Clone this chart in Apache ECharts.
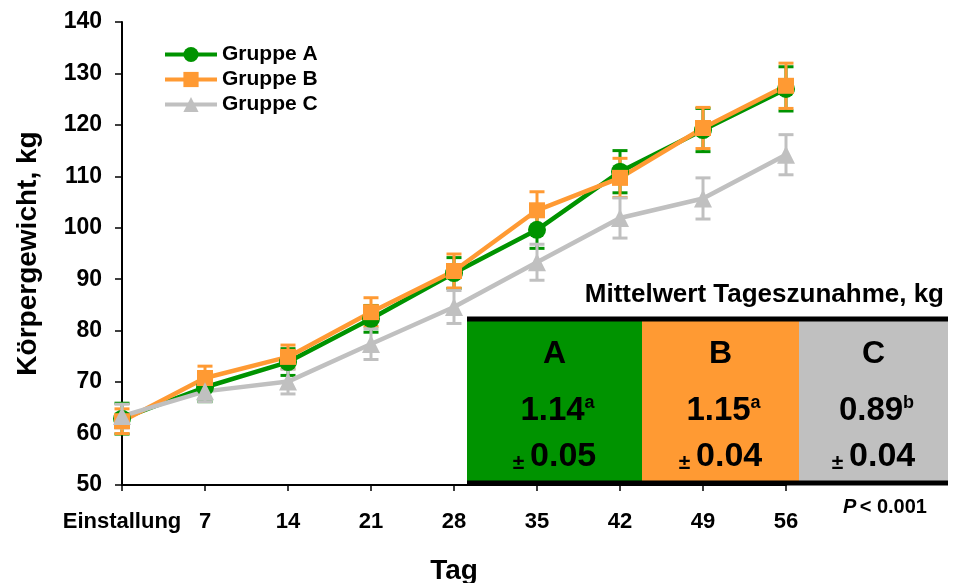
<!DOCTYPE html>
<html>
<head>
<meta charset="utf-8">
<script src="https://cdn.jsdelivr.net/npm/echarts@6/dist/echarts.min.js"></script>
<style>html,body{margin:0;padding:0;background:#fff}#c{width:955px;height:583px}</style>
</head>
<body>
<div id="c"></div>
<script>
// ---- data ----
const days = [0, 7, 14, 21, 28, 35, 42, 49, 56];
const xTickLabels = ['Einstallung', '7', '14', '21', '28', '35', '42', '49', '56'];
const groupNames = ['Gruppe A', 'Gruppe B', 'Gruppe C'];
const groupA = [62.9, 69.0, 73.9, 82.3, 91.2, 99.6, 110.9, 119.0, 127.0];
const groupAErr = [3.0, 2.8, 2.6, 2.6, 3.0, 3.6, 4.1, 4.2, 4.3];
const groupB = [62.4, 70.8, 74.9, 83.6, 91.6, 103.4, 109.7, 119.4, 127.6];
const groupBErr = [2.4, 2.3, 2.3, 2.8, 3.3, 3.6, 3.8, 4.0, 4.4];
const groupC = [63.4, 68.2, 70.1, 77.4, 84.6, 93.3, 101.9, 105.7, 114.2];
const groupCErr = [2.3, 2.0, 2.4, 3.0, 3.2, 3.5, 3.9, 4.0, 3.9];
const tableLetters = ['A', 'B', 'C'];
const tableMeans = ['1.14', '1.15', '0.89'];
const tableSup = ['a', 'a', 'b'];
const tableSE = ['0.05', '0.04', '0.04'];
const tableTitle = 'Mittelwert Tageszunahme, kg';
const pValueText = '< 0.001';

// ---- styling ----
const FONT = 'Liberation Sans, Arial, Helvetica, sans-serif';
const colors = ['#009300', '#FF9A33', '#C0C0C0'];
const symbols = ['circle', 'rect', 'triangle'];
const symbolSizes = [18, 16, 18];
const means = [groupA, groupB, groupC];
const errs = [groupAErr, groupBErr, groupCErr];

function errRender(color) {
  return function (params, api) {
    const x = api.value(0), y = api.value(1), e = api.value(2);
    const top = api.coord([x, y + e]);
    const bot = api.coord([x, y - e]);
    const hw = 7.5;
    const st = { stroke: color, lineWidth: 3 };
    return {
      type: 'group',
      children: [
        { type: 'line', shape: { x1: top[0], y1: top[1], x2: bot[0], y2: bot[1] }, style: st },
        { type: 'line', shape: { x1: top[0] - hw, y1: top[1], x2: top[0] + hw, y2: top[1] }, style: st },
        { type: 'line', shape: { x1: bot[0] - hw, y1: bot[1], x2: bot[0] + hw, y2: bot[1] }, style: st }
      ]
    };
  };
}

const series = [];
for (let g = 0; g < 3; g++) {
  series.push({
    type: 'custom',
    name: groupNames[g] + ' SE',
    renderItem: errRender(colors[g]),
    data: days.map((d, i) => [d, means[g][i], errs[g][i]]),
    silent: true,
    z: 2
  });
  series.push({
    type: 'line',
    name: groupNames[g],
    data: days.map((d, i) => [d, means[g][i]]),
    symbol: symbols[g],
    symbolSize: symbolSizes[g],
    lineStyle: { color: colors[g], width: 4.5 },
    itemStyle: { color: colors[g] },
    color: colors[g],
    z: 2
  });
}

// ---- table graphic ----
const cellX = [467, 642, 799, 948];
const tTop = 319, tBot = 483;
const graphic = [];
for (let i = 0; i < 3; i++) {
  graphic.push({
    type: 'rect', z: 10,
    shape: { x: cellX[i], y: tTop, width: cellX[i + 1] - cellX[i], height: tBot - tTop },
    style: { fill: colors[i] }
  });
}
graphic.push({ type: 'line', z: 11, shape: { x1: 467, y1: tTop, x2: 948, y2: tTop }, style: { stroke: '#000', lineWidth: 5 } });
graphic.push({ type: 'line', z: 11, shape: { x1: 467, y1: tBot, x2: 948, y2: tBot }, style: { stroke: '#000', lineWidth: 5 } });
for (let i = 0; i < 3; i++) {
  const cx = (cellX[i] + cellX[i + 1]) / 2;
  graphic.push({
    type: 'text', z: 12, x: cx, y: 354,
    style: { text: tableLetters[i], align: 'center', verticalAlign: 'middle', fontSize: 32, fontWeight: 'bold', fontFamily: FONT, fill: '#000' }
  });
  graphic.push({
    type: 'text', z: 12, x: cx + 3, y: 411,
    style: {
      text: '{v|' + tableMeans[i] + '}{s|' + tableSup[i] + '}',
      align: 'center', verticalAlign: 'middle', fill: '#000',
      rich: {
        v: { fontSize: 33, fontWeight: 'bold', fontFamily: FONT, fill: '#000' },
        s: { fontSize: 18, fontWeight: 'bold', fontFamily: FONT, fill: '#000', verticalAlign: 'top' }
      }
    }
  });
  graphic.push({
    type: 'text', z: 12, x: cx, y: 457,
    style: {
      text: '{p|± }{v|' + tableSE[i] + '}',
      align: 'center', verticalAlign: 'middle', fill: '#000',
      rich: {
        p: { fontSize: 21, fontWeight: 'bold', fontFamily: FONT, fill: '#000', verticalAlign: 'bottom' },
        v: { fontSize: 34, fontWeight: 'bold', fontFamily: FONT, fill: '#000' }
      }
    }
  });
}
graphic.push({
  type: 'text', z: 12, x: 944, y: 295,
  style: { text: tableTitle, align: 'right', verticalAlign: 'middle', fontSize: 26, fontWeight: 'bold', fontFamily: FONT, fill: '#000' }
});
graphic.push({
  type: 'text', z: 12, x: 885, y: 507,
  style: {
    text: '{i|P} {n|' + pValueText + '}', align: 'center', verticalAlign: 'middle',
    rich: {
      i: { fontSize: 20, fontWeight: 'bold', fontStyle: 'italic', fontFamily: FONT, fill: '#000' },
      n: { fontSize: 20, fontWeight: 'bold', fontFamily: FONT, fill: '#000' }
    }
  }
});

const chart = echarts.init(document.getElementById('c'), null, { renderer: 'canvas' });
chart.setOption({
  animation: false,
  backgroundColor: '#fff',
  grid: { left: 122, right: 169, top: 22, bottom: 98, containLabel: false, outerBoundsMode: 'none' },
  legend: {
    data: groupNames,
    orient: 'vertical',
    left: 158, top: 39,
    itemWidth: 52, itemHeight: 19, itemGap: 4,
    lineStyle: { width: 4 },
    textStyle: { fontSize: 21, fontWeight: 'bold', fontFamily: FONT, color: '#000', lineHeight: 20 }
  },
  xAxis: {
    type: 'value', min: 0, max: 56, interval: 7,
    name: 'Tag', nameLocation: 'middle', nameGap: 72,
    nameTextStyle: { fontSize: 28, fontWeight: 'bold', fontFamily: FONT, color: '#000' },
    axisLine: { lineStyle: { color: '#000', width: 2 } },
    axisTick: { show: true, length: 6, lineStyle: { color: '#000', width: 1.5 } },
    axisLabel: {
      margin: 26, fontSize: 22, fontWeight: 'bold', fontFamily: FONT, color: '#000',
      formatter: function (v) { const i = days.indexOf(v); return i >= 0 ? xTickLabels[i] : ''; }
    },
    splitLine: { show: false }
  },
  yAxis: {
    type: 'value', min: 50, max: 140, interval: 10,
    name: 'Körpergewicht, kg', nameLocation: 'middle', nameGap: 80,
    nameTextStyle: { fontSize: 28, fontWeight: 'bold', fontFamily: FONT, color: '#000' },
    axisLine: { show: true, lineStyle: { color: '#000', width: 2 } },
    axisTick: { show: true, length: 7, lineStyle: { color: '#000', width: 1.5 } },
    axisLabel: { margin: 20, fontSize: 23, fontWeight: 'bold', fontFamily: FONT, color: '#000' },
    splitLine: { show: false }
  },
  series: series,
  graphic: graphic
});
</script>
</body>
</html>
